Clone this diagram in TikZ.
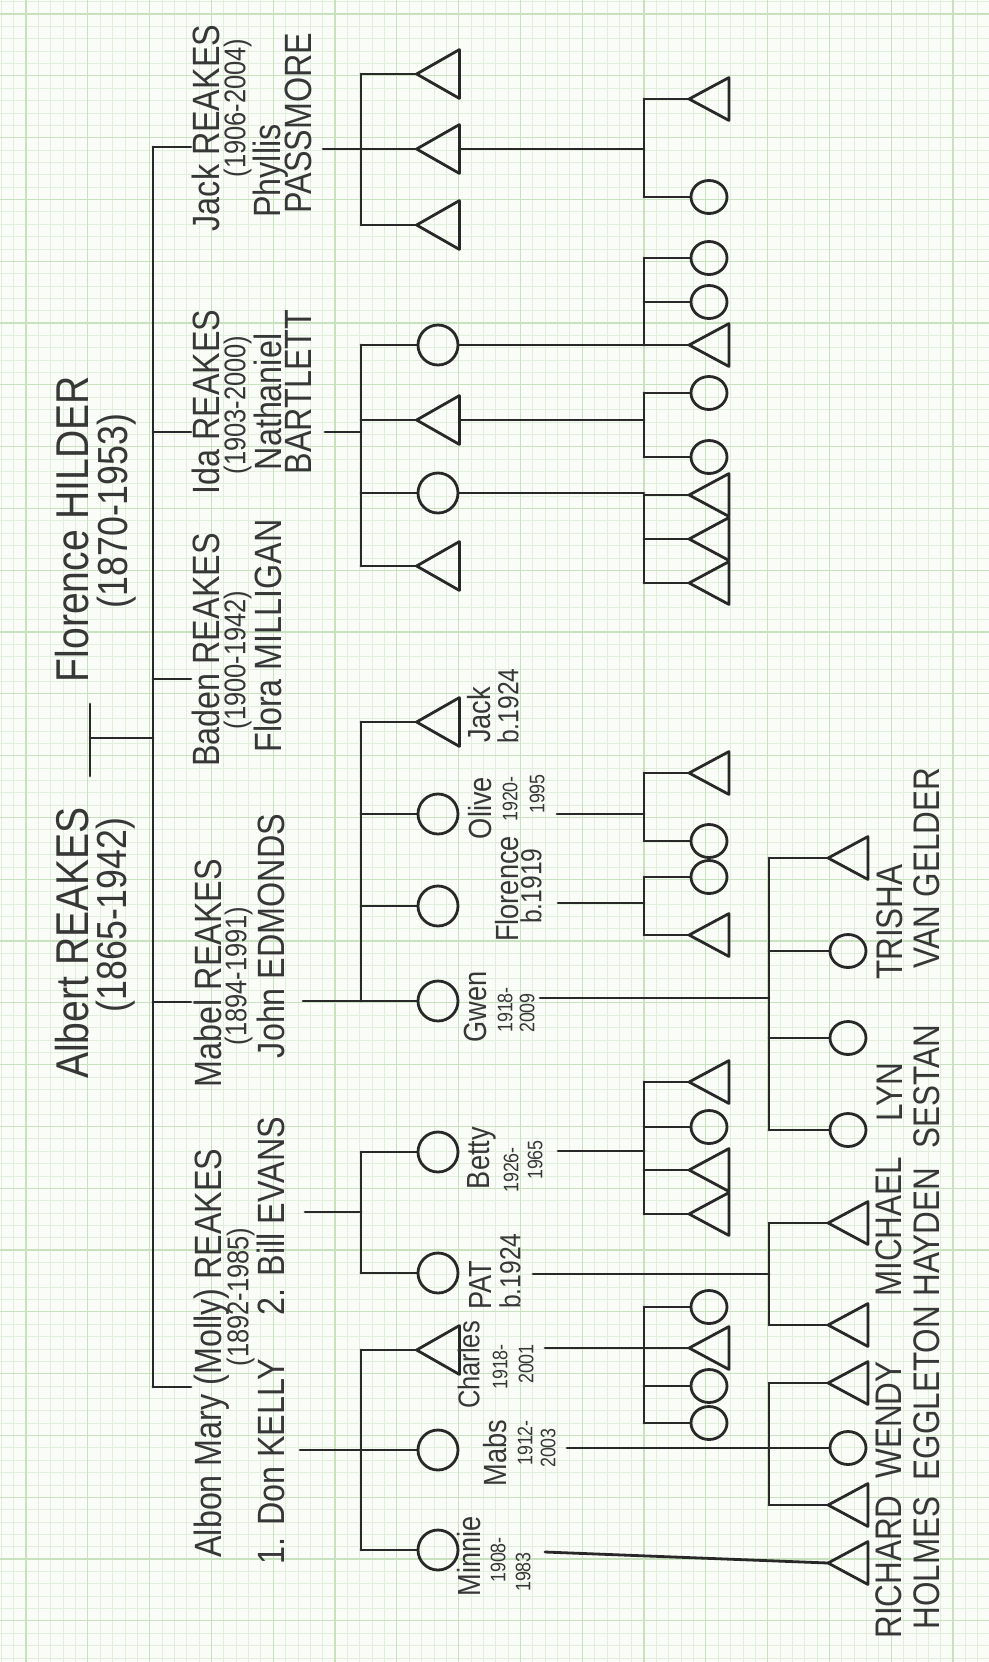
\documentclass[tikz,border=0pt]{standalone}
\usepackage{fontspec}
\setmainfont{Liberation Sans}[FakeStretch=0.85]
\usetikzlibrary{calc, shapes.geometric}
\definecolor{potlood}{RGB}{40,40,40}
\definecolor{inkt}{RGB}{55,55,55}
\definecolor{papier}{RGB}{250,252,248}
\definecolor{ruitje}{RGB}{224,238,219}
\definecolor{ruit}{RGB}{200,226,192}

\begin{document}
\begin{tikzpicture}[x=0.5pt, y=-0.5pt,
  lijn/.style={draw=potlood, line width=1.4pt, line cap=round, line join=round},
  man/.style={rectangle, inner sep=0pt, minimum width=21pt, minimum height=24pt},
  vrouw/.style={circle, lijn, inner sep=0pt, minimum size=20pt},
  man4/.style={man, minimum width=19.5pt, minimum height=21pt},
  vrouw4/.style={ellipse, lijn, inner sep=0pt, minimum width=18pt, minimum height=16.5pt},
  tekst/.style={rotate=90, anchor=mid, inner sep=0pt, text=inkt},
  groot/.style={tekst, font=\fontsize{23}{23}\selectfont},
  grootjr/.style={tekst, font=\fontsize{21}{21}\selectfont},
  naam/.style={tekst, font=\fontsize{19}{19}\selectfont},
  jaar/.style={tekst, font=\fontsize{15}{15}\selectfont},
  kind/.style={tekst, font=\fontsize{16}{16}\selectfont},
  kindjr/.style={tekst, font=\fontsize{10.5}{10.5}\selectfont},
  geb/.style={tekst, font=\fontsize{14.5}{14.5}\selectfont},
  klein/.style={tekst, font=\fontsize{18.5}{18.5}\selectfont}]

  % ruitjespapier
  \fill[papier] (0,0) rectangle (989,1662);
  \useasboundingbox (0,0) rectangle (989,1662);
  \foreach \k in {-2,...,77} \draw[ruitje, line width=0.35pt] ({26+12.36*\k},0) -- ++(0,1662);
  \foreach \k in {-1,...,133} \draw[ruitje, line width=0.35pt] (0,{14+12.36*\k}) -- ++(989,0);
  \foreach \k in {0,...,15} \draw[ruit, line width=0.6pt] ({26+61.8*\k},0) -- ++(0,1662);
  \foreach \k in {0,...,26} \draw[ruit, line width=0.6pt] (0,{14+61.8*\k}) -- ++(989,0);

  % stamouders
  \node[groot] (albert) at (83,943) {Albert REAKES};
  \node[grootjr] (albertjr) at (121,915) {(1865-1942)};
  \node[groot] (florence) at (83,529) {Florence HILDER};
  \node[grootjr] (florencejr) at (122,511) {(1870-1953)};
  \coordinate (trouwA) at (90,776);
  \coordinate (trouwF) at (90,704);
  \coordinate (trouw) at (90,738);
  \coordinate (b2) at (153,0);
  \draw[lijn] (trouwA) -- (trouwF);
  \draw[lijn] (trouw) -- (b2 |- trouw);

  % tweede generatie
  \node[naam] (jack1) at (214,128) {Jack REAKES};
  \node[jaar] (jack2) at (240,108) {(1906-2004)};
  \node[naam] (jack3) at (275,171) {Phyllis};
  \node[naam] (jack4) at (306,123) {PASSMORE};
  \node[naam] (ida1) at (214,402) {Ida REAKES};
  \node[jaar] (ida2) at (240,405) {(1903-2000)};
  \node[naam] (ida3) at (276,402) {Nathaniel};
  \node[naam] (ida4) at (306,392) {BARTLETT};
  \node[naam] (baden1) at (214,650) {Baden REAKES};
  \node[jaar] (baden2) at (240,660) {(1900-1942)};
  \node[naam] (baden3) at (276,636) {Flora MILLIGAN};
  \node[naam] (mabel1) at (216,973) {Mabel REAKES};
  \node[jaar] (mabel2) at (241,976) {(1894-1991)};
  \node[naam] (mabel3) at (279,936) {John EDMONDS};
  \node[naam] (molly1) at (216,1353) {Albon Mary (Molly) REAKES};
  \node[jaar] (molly2) at (243,1297) {(1892-1985)};
  \node[naam] (molly3) at (279,1462) {1. Don KELLY};
  \node[naam] (molly4) at (279,1216) {2. Bill EVANS};
  \coordinate (jackin) at (191,147);
  \coordinate (idain) at (191,432);
  \coordinate (badenin) at (191,679);
  \coordinate (mabelin) at (191,1002);
  \coordinate (mollyin) at (191,1387);
  \draw[lijn] (b2 |- jackin) -- (b2 |- mollyin);
  \foreach \n in {jackin,idain,badenin,mabelin,mollyin} \draw[lijn] (b2 |- \n) -- (\n);

  % derde generatie
  \node[man] (jackA) at (438,74) {};
  \node[man] (jackB) at (438,149) {};
  \node[man] (jackC) at (438,225) {};
  \node[vrouw] (idaA) at (438,345) {};
  \node[man] (idaB) at (438,420) {};
  \node[vrouw] (idaC) at (438,493) {};
  \node[man] (idaD) at (438,566) {};
  \node[man] (jackE) at (438,722) {};
  \node[vrouw] (olive) at (438,814) {};
  \node[vrouw] (flo) at (438,906) {};
  \node[vrouw] (gwen) at (438,1001) {};
  \node[vrouw] (betty) at (438,1152) {};
  \node[vrouw] (pat) at (438,1273) {};
  \node[man] (charles) at (438,1350) {};
  \node[vrouw] (mabs) at (438,1450) {};
  \node[vrouw] (minnie) at (438,1550) {};
  \foreach \n in {jackA,jackB,jackC,idaB,idaD,jackE,charles}
    \draw[lijn] (\n.west) -- (\n.north east) -- (\n.south east) -- cycle;

  % namen derde generatie
  \node[kind] (jackE1) at (485,715) {Jack};
  \node[geb] (jackE2) at (513,706) {b.1924};
  \node[kind] (olive1) at (486,808) {Olive};
  \node[kindjr] (olive2) at (512,799) {1920-};
  \node[kindjr] (olive3) at (539,794) {1995};
  \node[kind] (flo1) at (513,889) {Florence};
  \node[geb] (flo2) at (536,886) {b.1919};
  \node[kind] (gwen1) at (481,1007) {Gwen};
  \node[kindjr] (gwen2) at (507,1010) {1918-};
  \node[kindjr] (gwen3) at (529,1013) {2009};
  \node[kind] (betty1) at (484,1158) {Betty};
  \node[kindjr] (betty2) at (513,1170) {1926-};
  \node[kindjr] (betty3) at (537,1160) {1965};
  \node[kind] (pat1) at (486,1285) {PAT};
  \node[geb] (pat2) at (515,1271) {b.1924};
  \node[kind, font=\fontsize{15}{15}\selectfont] (charles1) at (474,1365) {Charles};
  \node[kindjr] (charles2) at (502,1367) {1918-};
  \node[kindjr] (charles3) at (528,1364) {2001};
  \node[kind] (mabs1) at (501,1453) {Mabs};
  \node[kindjr] (mabs2) at (527,1443) {1912-};
  \node[kindjr] (mabs3) at (550,1448) {2003};
  \node[kind] (minnie1) at (475,1556) {Minnie};
  \node[kindjr] (minnie2) at (500,1560) {1908-};
  \node[kindjr] (minnie3) at (525,1572) {1983};

  % broers en zussen, derde generatie
  \coordinate (b3) at (361,0);
  \draw[lijn] (b3 |- jackA) -- (b3 |- jackC);
  \draw[lijn] (b3 |- idaA) -- (b3 |- idaD);
  \draw[lijn] (b3 |- jackE) -- (b3 |- gwen);
  \draw[lijn] (b3 |- betty) -- (b3 |- pat);
  \draw[lijn] (b3 |- charles) -- (b3 |- minnie);
  \foreach \n in {jackA,jackB,jackC,idaA,idaB,idaC,idaD,jackE,olive,flo,gwen,betty,pat,charles,mabs,minnie}
    \draw[lijn] (b3 |- \n.west) -- (\n.west);
  \coordinate (jackuit) at (323,149);
  \coordinate (idauit) at (325,432);
  \coordinate (mabeluit) at (303,1001);
  \coordinate (evansuit) at (305,1212);
  \coordinate (kellyuit) at (300,1450);
  \foreach \n in {jackuit,idauit,mabeluit,evansuit,kellyuit} \draw[lijn] (\n) -- (b3 |- \n);

  % vierde generatie
  \node[man4] (jbA) at (709,99) {};
  \node[vrouw4] (jbB) at (709,197) {};
  \node[vrouw4] (iaA) at (709,258) {};
  \node[vrouw4] (iaB) at (709,302) {};
  \node[man4] (iaC) at (709,345) {};
  \node[vrouw4] (ibA) at (709,393) {};
  \node[vrouw4] (ibB) at (709,457) {};
  \node[man4] (icA) at (709,495) {};
  \node[man4] (icB) at (709,539) {};
  \node[man4] (icC) at (709,583) {};
  \node[man4] (olA) at (709,773) {};
  \node[vrouw4] (olB) at (709,841) {};
  \node[vrouw4] (flA) at (709,877) {};
  \node[man4] (flB) at (709,935) {};
  \node[man4] (beA) at (709,1082) {};
  \node[vrouw4] (beB) at (709,1127) {};
  \node[man4] (beC) at (709,1170) {};
  \node[man4] (beD) at (709,1214) {};
  \node[vrouw4] (chA) at (709,1307) {};
  \node[man4] (chB) at (709,1348) {};
  \node[vrouw4] (chC) at (709,1386) {};
  \node[vrouw4] (chD) at (709,1423) {};
  \node[man4] (gwA) at (848,858) {};
  \node[vrouw4] (gwB) at (848,951) {};
  \node[vrouw4] (gwC) at (848,1038) {};
  \node[vrouw4] (gwD) at (848,1130) {};
  \node[man4] (paA) at (848,1223) {};
  \node[man4] (paB) at (848,1325) {};
  \node[man4] (maA) at (848,1383) {};
  \node[vrouw4] (maB) at (848,1448) {};
  \node[man4] (maC) at (848,1505) {};
  \node[man4] (miA) at (848,1563) {};
  \foreach \n in {jbA,iaC,icA,icB,icC,olA,flB,beA,beC,beD,chB,gwA,paA,paB,maA,maC,miA}
    \draw[lijn] (\n.west) -- (\n.north east) -- (\n.south east) -- cycle;

  % namen vierde generatie
  \node[klein] (trisha1) at (897,922) {TRISHA};
  \node[klein] (trisha2) at (934,868) {VAN GELDER};
  \node[klein] (lyn1) at (897,1092) {LYN};
  \node[klein] (lyn2) at (934,1087) {SESTAN};
  \node[klein] (michael1) at (896,1227) {MICHAEL};
  \node[klein] (michael2) at (934,1232) {HAYDEN};
  \node[klein] (wendy1) at (896,1420) {WENDY};
  \node[klein] (wendy2) at (934,1393) {EGGLETON};
  \node[klein] (richard1) at (896,1567) {RICHARD};
  \node[klein] (richard2) at (934,1563) {HOLMES};

  % broers en zussen, vierde generatie
  \coordinate (bA) at (644,0);
  \coordinate (bB) at (769,0);
  \draw[lijn] (bA |- jbA) -- (bA |- jbB);
  \draw[lijn] (bA |- iaA) -- (bA |- iaC);
  \draw[lijn] (bA |- ibA) -- (bA |- ibB);
  \draw[lijn] (bA |- icA) -- (bA |- icC);
  \draw[lijn] (bA |- olA) -- (bA |- olB);
  \draw[lijn] (bA |- flA) -- (bA |- flB);
  \draw[lijn] (bA |- beA) -- (bA |- beD);
  \draw[lijn] (bA |- chA) -- (bA |- chD);
  \draw[lijn] (bB |- gwA) -- (bB |- gwD);
  \draw[lijn] (bB |- paA) -- (bB |- paB);
  \draw[lijn] (bB |- maA) -- (bB |- maC);
  \foreach \n in {jbA,jbB,iaA,iaB,iaC,ibA,ibB,icA,icB,icC,olA,olB,flA,flB,beA,beB,beC,beD,chA,chB,chC,chD}
    \draw[lijn] (bA |- \n.west) -- (\n.west);
  \foreach \n in {gwA,gwB,gwC,gwD,paA,paB,maA,maB,maC}
    \draw[lijn] (bB |- \n.west) -- (\n.west);
  \foreach \n in {jackB,idaA,idaB,idaC} \draw[lijn] (\n.east) -- (bA |- \n.east);
  \coordinate (oliveuit) at (557,814);
  \coordinate (flouit) at (558,903);
  \coordinate (bettyuit) at (558,1151);
  \coordinate (charlesuit) at (545,1348);
  \coordinate (gwenuit) at (540,998);
  \coordinate (patuit) at (533,1274);
  \coordinate (mabsuit) at (567,1448);
  \coordinate (minnieuit) at (545,1552);
  \foreach \n in {oliveuit,flouit,bettyuit,charlesuit} \draw[lijn] (\n) -- (bA |- \n);
  \foreach \n in {gwenuit,patuit,mabsuit} \draw[lijn] (\n) -- (bB |- \n);
  \draw[lijn] (minnieuit) -- (miA.west);
\end{tikzpicture}
\end{document}
